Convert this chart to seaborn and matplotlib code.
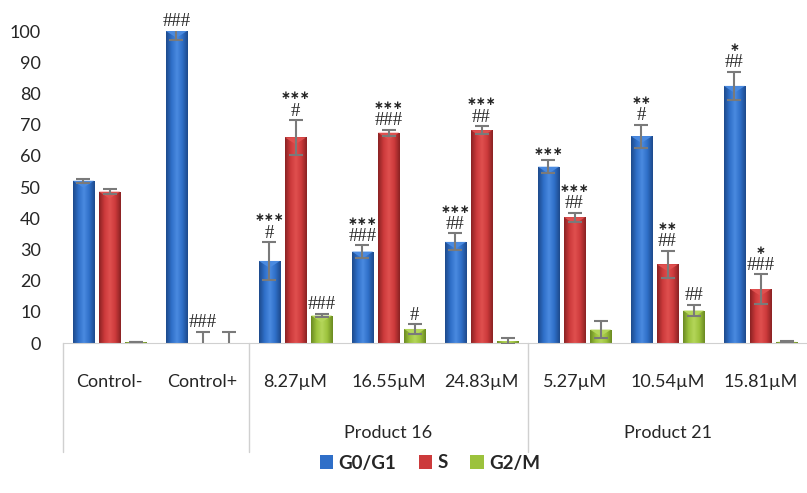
import numpy as np
import pandas as pd
import matplotlib.pyplot as plt
import matplotlib.transforms as mtransforms
from matplotlib.colors import LinearSegmentedColormap, to_rgb
import seaborn as sns

# values
categories = ["Control-", "Control+", "8.27µM", "16.55µM", "24.83µM", "5.27µM", "10.54µM", "15.81µM"]
groups = ["Product 16", "Product 21"]
phases = ["G0/G1", "S", "G2/M"]

g0 = [52, 100, 26.3, 29.3, 32.4, 56.5, 66.3, 82.4]
g0_err = [0.7, 3, 6, 2, 2.7, 2, 3.7, 4.5]
s = [48.5, 0, 65.9, 67.4, 68.2, 40.3, 25.2, 17.3]
s_err = [0.7, 3.6, 5.5, 1, 1.3, 1.5, 4.4, 4.7]
g2 = [0.2, 0, 8.8, 4.5, 0.6, 4.3, 10.4, 0.4]
g2_err = [0, 3.6, 0.5, 1.5, 1, 2.7, 1.8, 0.2]

g0_sig = ["", "###", "***\n#", "***\n###", "***\n##", "***", "**\n#", "*\n##"]
s_sig = ["", "###", "***\n#", "***\n###", "***\n##", "***\n##", "**\n##", "*\n###"]
g2_sig = ["", "", "###", "#", "", "", "##", ""]

colors = ["#2f6fc8", "#cc3a3b", "#9cc23c"]
dark = ["#1d4a8c", "#8a2223", "#6a8a22"]
light = ["#4a8ae0", "#e0504f", "#b4d65a"]

rows = []
for vals, errs, sigs, ph in [(g0, g0_err, g0_sig, "G0/G1"), (s, s_err, s_sig, "S"), (g2, g2_err, g2_sig, "G2/M")]:
    for c, v, e, t in zip(categories, vals, errs, sigs):
        rows.append({"cat": c, "phase": ph, "value": v, "err": e, "sig": t})
data = pd.DataFrame(rows)

sns.set_style("white")
plt.rcParams["font.family"] = ["Lato", "DejaVu Sans"]

fig = plt.figure(figsize=(8.07, 4.93), dpi=100)
ax = fig.add_axes([63 / 807, 1 - 343 / 493, 744 / 807, 312 / 493])

sns.barplot(data=data, x="cat", y="value", hue="phase", order=categories, hue_order=phases,
            palette=colors, saturation=1, width=0.84, gap=0.19, errorbar=None, ax=ax,
            edgecolor="none", legend=True)
handles, labels = ax.get_legend_handles_labels()
ax.get_legend().remove()

# shaded look of the bars: dark sides, lighter middle
grad = np.linspace(0, 1, 64)[None, :]
for i, ph in enumerate(phases):
    cmap = LinearSegmentedColormap.from_list(
        ph, [to_rgb(dark[i]), to_rgb(colors[i]), to_rgb(light[i]), to_rgb(colors[i]), to_rgb(dark[i])])
    for b in ax.containers[i]:
        h = b.get_height()
        if h <= 0:
            continue
        x0, w = b.get_x(), b.get_width()
        im = ax.imshow(grad, cmap=cmap, extent=[x0, x0 + w, 0, h], aspect="auto",
                       origin="lower", zorder=2.1)
        im.set_clip_path(b)
        ax.plot([x0, x0 + w, x0 + w / 2, x0], [h, h, h - min(2.2, h / 2), h],
                color=light[i], lw=0, zorder=2.2)
        ax.fill([x0, x0 + w, x0 + w / 2], [h, h, h - min(2.2, h / 2)],
                color=light[i], lw=0, zorder=2.2)

# error bars and significance marks, one per bar
for i, ph in enumerate(phases):
    sub = data[data["phase"] == ph].set_index("cat").loc[categories]
    bars = ax.containers[i]
    xs = [b.get_x() + b.get_width() / 2 for b in bars]
    ax.errorbar(xs, sub["value"], yerr=sub["err"], fmt="none", ecolor="#7a7a7a",
                elinewidth=1.5, capsize=5, capthick=1.5, zorder=3)
    for x, v, e, t in zip(xs, sub["value"], sub["err"], sub["sig"]):
        if not t:
            continue
        top = min(v + e, 100)
        lines = t.split("\n")
        off = 6.5
        for ln in reversed(lines):
            if ln.startswith("*"):
                ax.annotate("\u2217" * len(ln), (x, top), xytext=(0, off), textcoords="offset points",
                            ha="center", va="center", fontsize=8.5, family="DejaVu Sans",
                            fontweight="bold", annotation_clip=False)
            else:
                ax.annotate(ln, (x, top), xytext=(0, off), textcoords="offset points",
                            ha="center", va="center", fontsize=13.5, family="Liberation Serif",
                            annotation_clip=False)
            off += 11

ax.set_ylim(0, 100)
ax.set_xlim(-0.5, len(categories) - 0.5)
ax.set_yticks(range(0, 101, 10))
ax.set_xlabel("")
ax.set_ylabel("")
ax.tick_params(axis="both", length=0, labelsize=13)
ax.tick_params(axis="x", pad=22)
ax.tick_params(axis="y", pad=16)
for side in ["top", "right", "left"]:
    ax.spines[side].set_visible(False)
ax.spines["bottom"].set_color("#d0d0d0")

# second level of the category axis
trans = mtransforms.blended_transform_factory(ax.transData, ax.transAxes)
for xb in [-0.5, 1.5, 4.5]:
    ax.plot([xb, xb], [0, -0.35], transform=trans, color="#d0d0d0", lw=1, clip_on=False)
ax.text(3, -0.29, groups[0], transform=trans, ha="center", va="center", fontsize=13)
ax.text(6, -0.29, groups[1], transform=trans, ha="center", va="center", fontsize=13)

fig.legend(handles, labels, loc="center", bbox_to_anchor=(430 / 807, 1 - 463 / 493), ncol=3,
           frameon=False, handlelength=0.7, handleheight=0.7, handletextpad=0.3,
           columnspacing=1.2, prop={"weight": "bold", "size": 13.5})

fig.savefig("out.png", dpi=100)
